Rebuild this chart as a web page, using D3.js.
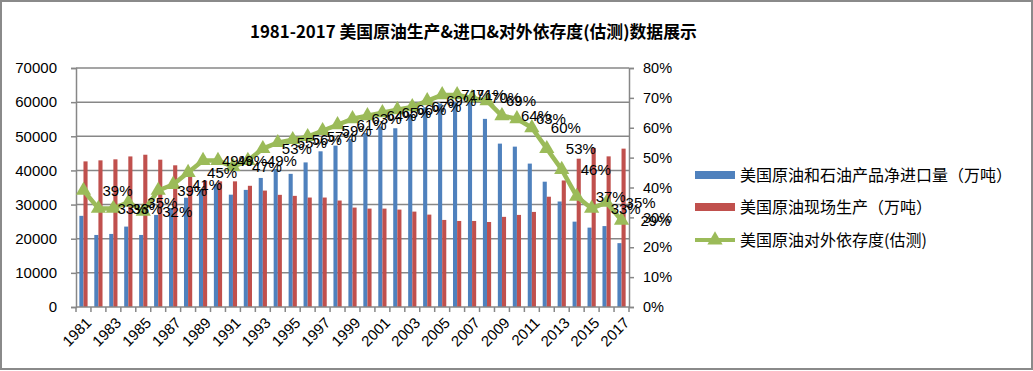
<!DOCTYPE html>
<html><head><meta charset="utf-8">
<script src="https://cdn.jsdelivr.net/npm/d3@7"></script>
<style>
html,body{margin:0;padding:0;background:#fff;}
svg{display:block;}
</style></head>
<body>
<svg id="chart" width="1033" height="371"></svg>
<script>
const years = ["1981","1982","1983","1984","1985","1986","1987","1988","1989","1990","1991","1992","1993","1994","1995","1996","1997","1998","1999","2000","2001","2002","2003","2004","2005","2006","2007","2008","2009","2010","2011","2012","2013","2014","2015","2016","2017"];
const netImports = [26700,21100,21400,23550,21100,26970,29000,32000,34500,36000,32900,34300,37800,40400,39000,42350,45600,47260,49200,51000,52900,52350,56500,58500,59600,60000,60300,55100,47850,46970,42000,36700,30900,25000,23250,23700,18700];
const production = [42650,42950,43250,44100,44600,43150,41500,39500,37000,36800,36800,35500,34100,32850,32550,32060,32060,31180,29120,28820,28820,28530,27940,27060,25500,25200,25200,24900,26400,26970,27850,32300,37060,43440,46590,44120,46380];
const dependency = [39,33,33,35,32,39,41,45,49,49,47,49,53,55,56,57,59,61,63,64,65,66,67,69,71,71,70,69,64,63,60,53,46,37,33,35,29];
const leftTicks = [0,10000,20000,30000,40000,50000,60000,70000];
const rightTicks = [0,0.1,0.2,0.3,0.4,0.5,0.6,0.7,0.8];
const xTickLabels = years.filter((d,i)=>i%2===0);
const seriesNames = ["美国原油和石油产品净进口量（万吨）","美国原油现场生产（万吨）","美国原油对外依存度(估测)"];
const titleText = "1981-2017 美国原油生产&进口&对外依存度(估测)数据展示";

const C_BLUE="#4F81BD", C_RED="#C0504D", C_GREEN="#9BBB59", C_GRID="#878787";
const svg = d3.select("#chart");
const L=76, R=629, T=68, B=307;

// border
svg.append("rect").attr("x",1).attr("y",1).attr("width",1031).attr("height",368)
  .attr("fill","#fff").attr("stroke","#8a8a8a").attr("stroke-width",2);

// title
const title = svg.append("text").attr("x",250).attr("y",38)
  .attr("font-family","'Noto Sans CJK SC', sans-serif").attr("font-weight","bold")
  .attr("font-size",17).attr("fill","#000").text(titleText);
{ const w = title.node().getComputedTextLength(); if (w>0) title.attr("font-size", 17*447/w); }

const x = d3.scaleBand().domain(years).range([L,R]).paddingInner(0.45).paddingOuter(0.225);
const xs = d3.scaleBand().domain(["imp","prod"]).range([0,x.bandwidth()]);
const yL = d3.scaleLinear().domain([0,70000]).range([B,T]);
const yR = d3.scaleLinear().domain([0,0.8]).range([B,T]);

// gridlines
svg.append("g").selectAll("line").data(leftTicks.filter(d=>d>0)).join("line")
  .attr("x1",L).attr("x2",R).attr("y1",d=>yL(d)).attr("y2",d=>yL(d))
  .attr("stroke",C_GRID).attr("stroke-width",1.5);

// bars
const rows = years.map((y,i)=>({year:y, imp:netImports[i], prod:production[i], dep:dependency[i]/100}));
const g = svg.append("g");
g.selectAll("rect.imp").data(rows).join("rect").attr("class","imp")
  .attr("x",d=>x(d.year)+xs("imp")).attr("width",xs.bandwidth())
  .attr("y",d=>yL(d.imp)).attr("height",d=>yL(0)-yL(d.imp)).attr("fill",C_BLUE);
g.selectAll("rect.prod").data(rows).join("rect").attr("class","prod")
  .attr("x",d=>x(d.year)+xs("prod")).attr("width",xs.bandwidth())
  .attr("y",d=>yL(d.prod)).attr("height",d=>yL(0)-yL(d.prod)).attr("fill",C_RED);

// left axis
const axL = svg.append("g").attr("transform",`translate(${L},0)`)
  .call(d3.axisLeft(yL).tickValues(leftTicks).tickSize(5).tickPadding(14).tickFormat(d3.format("d")));
axL.select(".domain").attr("stroke",C_GRID).attr("stroke-width",1.5);
axL.selectAll(".tick line").attr("stroke",C_GRID).attr("stroke-width",1.5);
axL.selectAll("text").attr("font-family","'Liberation Sans', Arial, sans-serif").attr("font-size",15).attr("fill","#000");

// right axis
const axR = svg.append("g").attr("transform",`translate(${R},0)`)
  .call(d3.axisRight(yR).tickValues(rightTicks).tickSize(5).tickPadding(9).tickFormat(d3.format(".0%")));
axR.select(".domain").attr("stroke",C_GRID).attr("stroke-width",1.5);
axR.selectAll(".tick line").attr("stroke",C_GRID).attr("stroke-width",1.5);
axR.selectAll("text").attr("font-family","'Liberation Sans', Arial, sans-serif").attr("font-size",14.5).attr("fill","#000");

// bottom axis
const step = x.step();
const axB = svg.append("g");
axB.append("line").attr("x1",L).attr("x2",R).attr("y1",B).attr("y2",B).attr("stroke",C_GRID).attr("stroke-width",1.5);
axB.selectAll("line.tk").data(d3.range(years.length+1)).join("line").attr("class","tk")
  .attr("x1",k=>L+k*step).attr("x2",k=>L+k*step).attr("y1",B).attr("y2",B+5)
  .attr("stroke",C_GRID).attr("stroke-width",1.5);
axB.selectAll("text").data(xTickLabels).join("text")
  .attr("transform",d=>`translate(${x(d)+x.bandwidth()/2+6},${B+14}) rotate(-45)`)
  .attr("text-anchor","end").attr("dominant-baseline","middle")
  .attr("font-family","'Liberation Sans', Arial, sans-serif").attr("font-size",15).attr("fill","#000")
  .text(d=>d);

// line
const cx = d=>x(d.year)+x.bandwidth()/2;
svg.append("path").datum(rows)
  .attr("d",d3.line().x(cx).y(d=>yR(d.dep)))
  .attr("fill","none").attr("stroke",C_GREEN).attr("stroke-width",4.5).attr("stroke-linejoin","round");
const tri = d3.symbol().type(d3.symbolTriangle).size(100);
svg.append("g").selectAll("path").data(rows).join("path")
  .attr("d",tri).attr("transform",d=>`translate(${cx(d)},${yR(d.dep)})`).attr("fill",C_GREEN);

// data labels
svg.append("g").selectAll("text").data(rows).join("text")
  .attr("x",d=>cx(d)+19).attr("y",d=>yR(d.dep)).attr("dy","0.35em")
  .attr("font-family","'Liberation Sans', Arial, sans-serif").attr("font-size",15).attr("fill","#000")
  .text(d=>d3.format(".0%")(d.dep));

// legend
const lg = svg.append("g");
const legY = [175,207,240];
lg.append("rect").attr("x",695).attr("y",legY[0]-4).attr("width",40).attr("height",8).attr("fill",C_BLUE);
lg.append("rect").attr("x",695).attr("y",legY[1]-4).attr("width",40).attr("height",8).attr("fill",C_RED);
lg.append("line").attr("x1",695).attr("x2",735).attr("y1",legY[2]).attr("y2",legY[2]).attr("stroke",C_GREEN).attr("stroke-width",4);
lg.append("path").attr("d",tri).attr("transform",`translate(715,${legY[2]})`).attr("fill",C_GREEN);
lg.selectAll("text").data(seriesNames).join("text")
  .attr("x",740).attr("y",(d,i)=>legY[i]).attr("dy","0.35em")
  .attr("font-family","'Noto Sans CJK SC', sans-serif").attr("font-size",16).attr("fill","#000")
  .text(d=>d);
</script>
</body></html>
